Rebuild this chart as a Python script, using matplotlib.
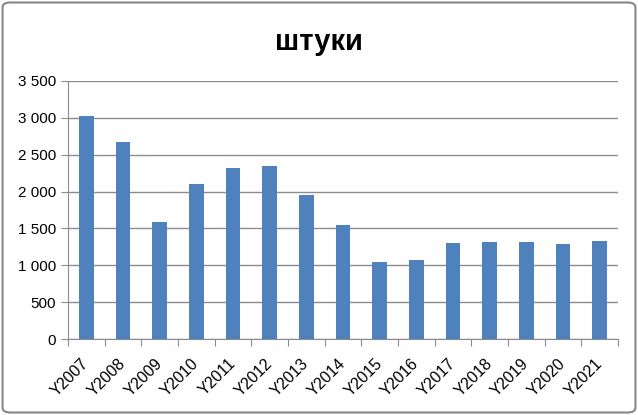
"""Bar chart: штуки per year, Excel style."""

import matplotlib
matplotlib.use('Agg')
import matplotlib.pyplot as plt
from matplotlib.patches import FancyBboxPatch
from matplotlib.ticker import FuncFormatter, MultipleLocator

years = ['Y2007', 'Y2008', 'Y2009', 'Y2010', 'Y2011', 'Y2012', 'Y2013', 'Y2014',
         'Y2015', 'Y2016', 'Y2017', 'Y2018', 'Y2019', 'Y2020', 'Y2021']
values = [3020, 2670, 1590, 2100, 2320, 2345, 1950, 1550,
          1040, 1075, 1300, 1315, 1315, 1290, 1330]
title = 'штуки'

# =============================================================================

plt.rcParams['font.family'] = ['Liberation Sans', 'DejaVu Sans']

fig = plt.figure(figsize=(6.38, 4.15), dpi=100)
ax = fig.add_axes([0.1066, 0.183, 0.862, 0.622])

x = range(len(years))
ax.bar(x, values, width=0.4, color='#4F81BD', zorder=3)

ax.set_xlim(-0.5, len(years) - 0.5)
ax.set_ylim(0, 3500)
ax.yaxis.set_major_locator(MultipleLocator(500))
ax.yaxis.set_major_formatter(FuncFormatter(lambda v, p: f'{int(v):,}'.replace(',', ' ')))
ax.grid(axis='y', color='#8c8c8c', linewidth=1, zorder=0)

# category boundaries get the tick marks, labels sit under the bars
ax.set_xticks([i - 0.5 for i in range(len(years) + 1)], minor=False)
ax.set_xticklabels([])
ax.set_xticks(list(x), minor=True)
ax.set_xticklabels(years, minor=True, rotation=45, ha='right', va='center',
                   rotation_mode='anchor', fontsize=11.5)
ax.tick_params(axis='x', which='minor', length=0, pad=16)
ax.tick_params(axis='x', which='major', length=5, color='#8c8c8c')
ax.tick_params(axis='y', length=5, color='#8c8c8c', labelsize=11)

for side in ['top', 'right']:
    ax.spines[side].set_visible(False)
for side in ['left', 'bottom']:
    ax.spines[side].set_color('#8c8c8c')

fig.text(0.5, 0.9, title, ha='center', va='center', fontsize=21, fontweight='bold')

border = FancyBboxPatch((0.004, 0.006), 0.992, 0.988, boxstyle='round,pad=0,rounding_size=0.012',
                        transform=fig.transFigure, facecolor='none', edgecolor='#878787',
                        linewidth=1.5)
fig.patches.append(border)

plt.savefig('out.png', dpi=100)
